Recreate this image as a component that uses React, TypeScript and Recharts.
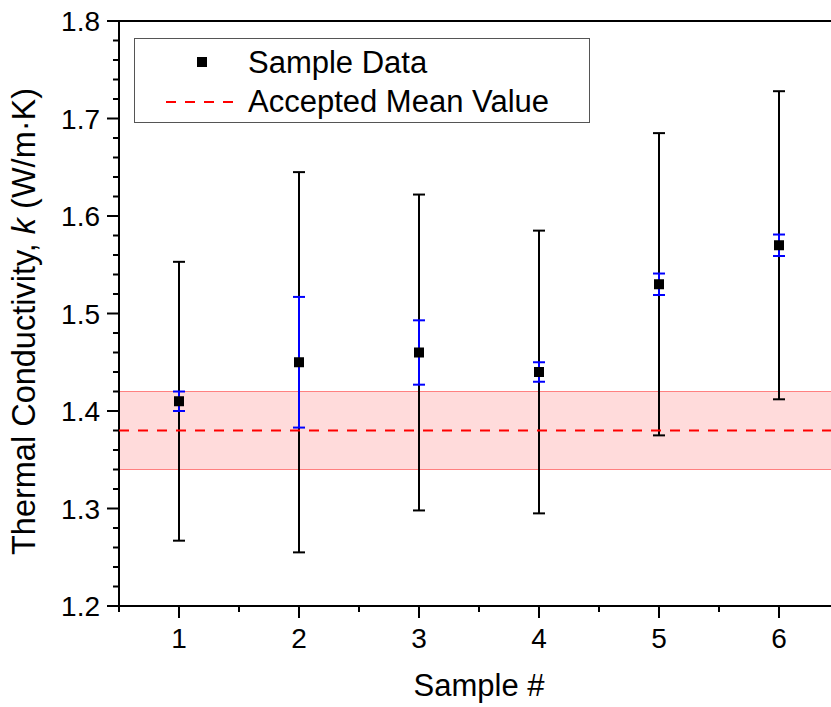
import React from "react";
import {
  ComposedChart,
  Scatter,
  ErrorBar,
  XAxis,
  YAxis,
  ReferenceArea,
  ReferenceLine,
  Legend,
} from "recharts";

const samples = [1, 2, 3, 4, 5, 6];
const meanK = [1.41, 1.45, 1.46, 1.44, 1.53, 1.57];
const totalErr = [0.143, 0.195, 0.162, 0.145, 0.155, 0.158];
const measErr = [0.01, 0.067, 0.033, 0.01, 0.011, 0.011];

const acceptedMean = 1.38;
const acceptedLow = 1.34;
const acceptedHigh = 1.42;

const xTicks = [0.5, 1, 1.5, 2, 2.5, 3, 3.5, 4, 4.5, 5, 5.5, 6, 6.5];
const yTicks = Array.from({ length: 31 }, (_, i) => Math.round((1.2 + i * 0.02) * 100) / 100);

const FONT = '"Liberation Sans", Arial, sans-serif';

const data = samples.map((s, i) => ({
  sample: s,
  k: meanK[i],
  total: totalErr[i],
  meas: measErr[i],
}));

const isMajor = (v: number, step: number) =>
  Math.abs(v / step - Math.round(v / step)) < 1e-6;

function YTick({ x, y, payload }: any) {
  const major = isMajor(payload.value, 0.1);
  return (
    <g>
      <line x1={x - (major ? 12 : 6)} x2={x} y1={y} y2={y} stroke="#000" strokeWidth={2} />
      {major && (
        <text x={x - 19} y={y} dy="0.36em" textAnchor="end" fontSize={28} fontFamily={FONT} fill="#000">
          {payload.value.toFixed(1)}
        </text>
      )}
    </g>
  );
}

function XTick({ x, y, payload }: any) {
  const major = isMajor(payload.value, 1);
  return (
    <g>
      <line x1={x} x2={x} y1={y} y2={y + (major ? 12 : 6)} stroke="#000" strokeWidth={2} />
      {major && (
        <text x={x} y={y + 42} textAnchor="middle" fontSize={28} fontFamily={FONT} fill="#000">
          {payload.value}
        </text>
      )}
    </g>
  );
}

function Square({ cx, cy }: any) {
  return <rect x={cx - 5} y={cy - 5} width={10} height={10} fill="#000" />;
}

function LegendBox() {
  return (
    <svg width={456} height={85} style={{ display: "block" }}>
      <rect x={0.5} y={0.5} width={455} height={84} fill="#fff" stroke="#555" strokeWidth={1} />
      <rect x={63} y={19} width={10} height={10} fill="#000" />
      <text x={114} y={35} fontSize={31} fontFamily={FONT} fill="#000">
        Sample Data
      </text>
      <line x1={32} x2={99} y1={64} y2={64} stroke="#ff0000" strokeWidth={2} strokeDasharray="10 9" />
      <text x={114} y={74} fontSize={31} fontFamily={FONT} fill="#000">
        Accepted Mean Value
      </text>
    </svg>
  );
}

function YTitle({ viewBox }: any) {
  const cy = viewBox ? viewBox.y + viewBox.height / 2 + 8 : 322;
  return (
    <text
      transform={`translate(35, ${cy}) rotate(-90)`}
      textAnchor="middle"
      fontSize={32.5}
      fontFamily={FONT}
      fill="#000"
    >
      Thermal Conductivity, <tspan fontStyle="italic">k</tspan> (W/m·K)
    </text>
  );
}

export default function App() {
  return (
    <div
      style={{
        position: "absolute",
        left: 0,
        top: 0,
        width: 831,
        height: 707,
        overflow: "hidden",
        background: "#fff",
      }}
    >
      <ComposedChart
        width={900}
        height={707}
        data={data}
        margin={{ top: 21, right: 61, bottom: 0, left: 0 }}
      >
        <ReferenceArea
          y1={acceptedLow}
          y2={acceptedHigh}
          fill="#ffdbdb"
          fillOpacity={1}
          stroke="#ff8080"
          strokeWidth={1.2}
        />
        <XAxis
          dataKey="sample"
          type="number"
          domain={[0.5, 6.5]}
          ticks={xTicks}
          interval={0}
          allowDataOverflow
          height={101}
          tickSize={0}
          tickMargin={0}
          tickLine={false}
          tick={<XTick />}
          axisLine={{ stroke: "#000", strokeWidth: 2 }}
          label={{
            value: "Sample #",
            position: "insideBottom",
            offset: 11,
            fontSize: 31,
            fontFamily: FONT,
            fill: "#000",
          }}
        />
        <YAxis
          dataKey="k"
          type="number"
          domain={[1.2, 1.8]}
          ticks={yTicks}
          interval={0}
          allowDataOverflow
          width={119}
          tickSize={0}
          tickMargin={0}
          tickLine={false}
          tick={<YTick />}
          axisLine={{ stroke: "#000", strokeWidth: 2 }}
          label={<YTitle />}
        />
        <ReferenceLine y={1.8} stroke="#000" strokeWidth={2} />
        <ReferenceLine x={6.5} stroke="#000" strokeWidth={2} />
        <Scatter dataKey="k" shape={<Square />} isAnimationActive={false}>
          <ErrorBar dataKey="total" direction="y" width={6} stroke="#000" strokeWidth={2} />
          <ErrorBar dataKey="meas" direction="y" width={6} stroke="#0000ff" strokeWidth={2} />
        </Scatter>
        <ReferenceLine
          y={acceptedMean}
          stroke="#ff0000"
          strokeWidth={2}
          strokeDasharray="10 9"
          zIndex={700}
        />
        <Legend
          layout="vertical"
          align="center"
          verticalAlign="middle"
          wrapperStyle={{ left: 134, top: 38, width: 456, height: 85 }}
          content={() => <LegendBox />}
        />
      </ComposedChart>
    </div>
  );
}
